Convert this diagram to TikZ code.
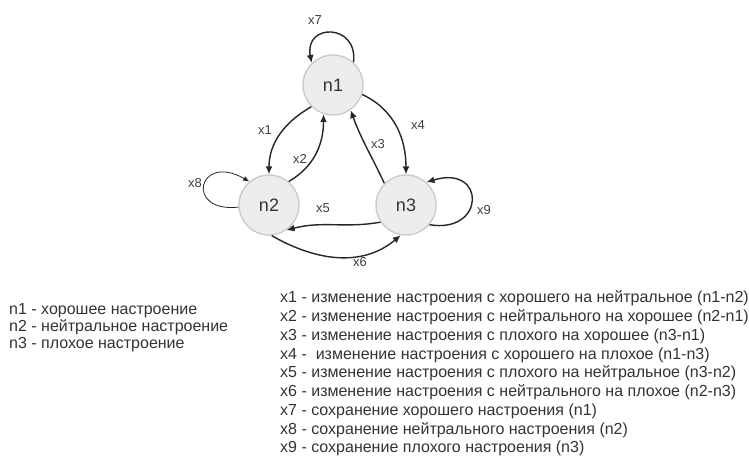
\documentclass[tikz,border=0pt]{standalone}
\usepackage{fontspec}
\setmainfont{Liberation Sans}
\usetikzlibrary{arrows.meta}

\begin{document}
\begin{tikzpicture}[x=1pt,y=1pt,
    state/.style={circle,draw=gray!40,fill=gray!14,line width=1.4pt,minimum size=60pt,
        inner sep=0pt,font=\fontsize{18}{20}\selectfont,text=black!80},
    trans/.style={-{Latex[length=8pt,width=7pt]},line width=1.4pt,black!85},
    selfthin/.style={-{Latex[length=6pt,width=5pt]},line width=0.8pt,black!85},
    lbl/.style={font=\fontsize{13}{15}\selectfont,text=black!75,inner sep=0pt},
    legend/.style={font=\fontsize{16}{18}\selectfont,text=black!80,inner sep=0pt,anchor=base west}
]

\useasboundingbox (0,0) rectangle (749,456);

% States
\node[state] (n1) at (333,371) {n1};
\node[state] (n2) at (269,251) {n2};
\node[state] (n3) at (406,251) {n3};

% Loop on n1
\draw[trans] (n1.48) .. controls (358,433) and (304,433) .. (n1.134);
\node[lbl] (lx7) at (315,436) {x7};

% n1 -> n2 and n2 -> n1
\draw[trans] (n1.225) to[out=210,in=90] (n2.north);
\node[lbl] (lx1) at (265,326) {x1};
\draw[trans] (n2.50) to[out=30,in=-90] (n1.252);
\node[lbl] (lx2) at (300,297) {x2};

% n3 -> n1 and n1 -> n3
\draw[trans] (n3.135) to[out=115,in=-70] (n1.-55);
\node[lbl] (lx3) at (378,312) {x3};
\draw[trans] (n1.-18) to[out=-25,in=90] (n3.north);
\node[lbl] (lx4) at (418,331) {x4};

% n3 -> n2 and n2 -> n3
\draw[trans] (n3.214) to[out=190,in=15] (n2.-55);
\node[lbl] (lx5) at (323,248) {x5};
\draw[trans] (n2.-85) to[out=-30,in=-140] (n3.-100);
\node[lbl] (lx6) at (360,194) {x6};

% Loop on n2
\draw[selfthin] (n2.184) .. controls (184,243) and (198,304) .. (n2.130);
\node[lbl] (lx8) at (195,273) {x8};

% Loop on n3
\draw[trans] (n3.-40) .. controls (486,222) and (486,292) .. (n3.48);
\node[lbl] (lx9) at (484,246) {x9};

% Legend of states
\foreach \t [count=\i] in {n1 - хорошее настроение,
    n2 - нейтральное настроение,
    n3 - плохое настроение}
    \node[legend] (ln\i) at (9,159-17*\i) {\t};

% Legend of transitions
\foreach \t [count=\i] in {x1 - изменение настроения с хорошего на нейтральное (n1-n2),
    x2 - изменение настроения с нейтрального на хорошее (n2-n1),
    x3 - изменение настроения с плохого на хорошее (n3-n1),
    x4 - \ изменение настроения с хорошего на плохое (n1-n3),
    x5 - изменение настроения с плохого на нейтральное (n3-n2),
    x6 - изменение настроения с нейтрального на плохое (n2-n3),
    x7 - сохранение хорошего настроения (n1),
    x8 - сохранение нейтрального настроения (n2),
    x9 - сохранение плохого настроения (n3)}
    \node[legend] (lx\i) at (280,172-18.75*\i) {\t};

\end{tikzpicture}
\end{document}
